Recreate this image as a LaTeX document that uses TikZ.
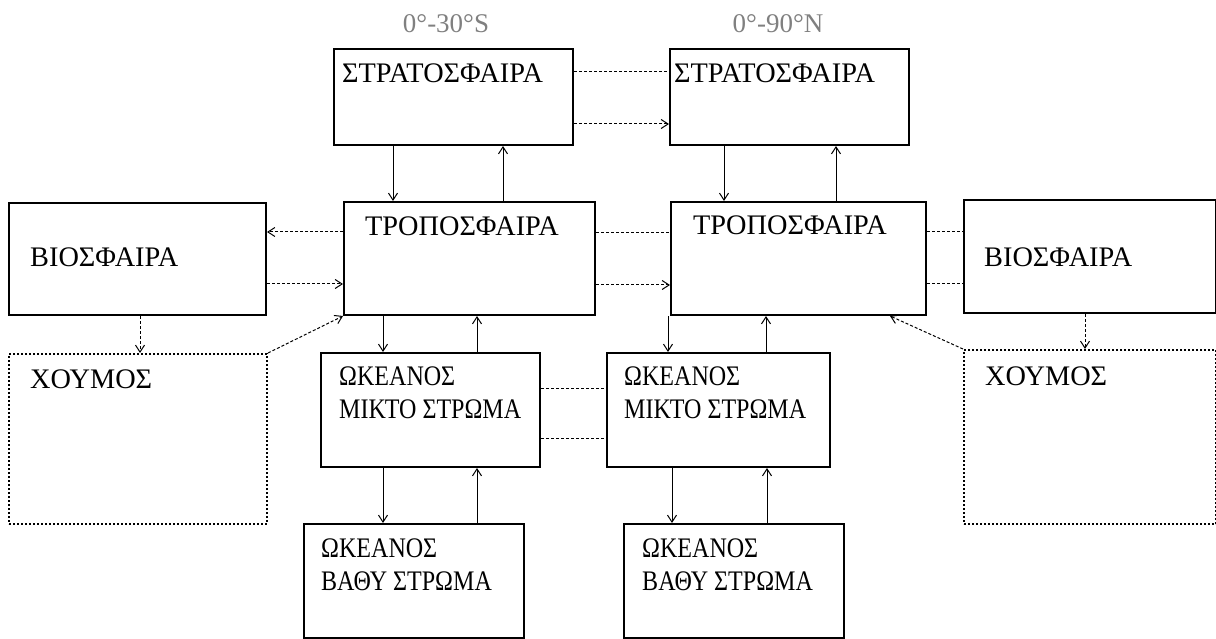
\documentclass[tikz,border=0pt]{standalone}
\usepackage{fontspec}
\setmainfont{Liberation Serif}
\newfontfamily\narrowfont[FakeStretch=0.85]{Liberation Serif}
\usetikzlibrary{arrows.meta}
\begin{document}
\begin{tikzpicture}[x=1pt,y=-1pt,
 box/.style={draw,line width=2pt,anchor=north west,inner sep=0pt},
 humbox/.style={box,dotted},
 lbl/.style={anchor=base west,inner sep=0pt,align=left,font=\fontsize{28.3}{33}\selectfont},
 olbl/.style={lbl,font=\narrowfont\fontsize{28.3}{33}\selectfont},
 zone/.style={inner sep=0pt,text=black!50,font=\fontsize{27}{30}\selectfont},
 arr/.style={line width=1pt,-{Straight Barb[length=7pt,width=9pt]}},
 darr/.style={arr,densely dashed},
 link/.style={line width=1pt,densely dashed}]
 \useasboundingbox (0,0) rectangle (1216,639);
 % zones
 \node[zone] (latS) at (446,24) {0°-30°S};
 \node[zone] (latN) at (778,24) {0°-90°N};
 % boxes
 \node[box,minimum width=239pt,minimum height=96pt] (stratS) at (333,48) {};
 \node[box,minimum width=239pt,minimum height=96pt] (stratN) at (669,48) {};
 \node[box,minimum width=257pt,minimum height=112pt] (bioS) at (8,202) {};
 \node[box,minimum width=251pt,minimum height=113pt] (tropS) at (343,201) {};
 \node[box,minimum width=255pt,minimum height=113pt] (tropN) at (670,201) {};
 \node[box,minimum width=252pt,minimum height=113pt] (bioN) at (963,199) {};
 \node[humbox,minimum width=258pt,minimum height=170pt] (humS) at (8,353) {};
 \node[humbox,minimum width=252pt,minimum height=174pt] (humN) at (963,349) {};
 \node[box,minimum width=219pt,minimum height=114pt] (mixS) at (320,352) {};
 \node[box,minimum width=223pt,minimum height=114pt] (mixN) at (606,352) {};
 \node[box,minimum width=220pt,minimum height=114pt] (deepS) at (303,523) {};
 \node[box,minimum width=220pt,minimum height=114pt] (deepN) at (623,523) {};
 % labels
 \node[lbl] (stratSt) at ([shift={(9,35)}]stratS.north west) {ΣΤΡΑΤΟΣΦΑΙΡΑ};
 \node[lbl] (stratNt) at ([shift={(5,35)}]stratN.north west) {ΣΤΡΑΤΟΣΦΑΙΡΑ};
 \node[lbl] (tropSt) at ([shift={(22,35)}]tropS.north west) {ΤΡΟΠΟΣΦΑΙΡΑ};
 \node[lbl] (tropNt) at ([shift={(23,34)}]tropN.north west) {ΤΡΟΠΟΣΦΑΙΡΑ};
 \node[lbl] (bioSt) at ([shift={(22,65)}]bioS.north west) {ΒΙΟΣΦΑΙΡΑ};
 \node[lbl] (bioNt) at ([shift={(21,68)}]bioN.north west) {ΒΙΟΣΦΑΙΡΑ};
 \node[lbl] (humSt) at ([shift={(22,35)}]humS.north west) {ΧΟΥΜΟΣ};
 \node[lbl] (humNt) at ([shift={(22,36)}]humN.north west) {ΧΟΥΜΟΣ};
 \node[olbl] (mixSt) at ([shift={(19,66)}]mixS.north west) {ΩΚΕΑΝΟΣ\\ΜΙΚΤΟ ΣΤΡΩΜΑ};
 \node[olbl] (mixNt) at ([shift={(18,66)}]mixN.north west) {ΩΚΕΑΝΟΣ\\ΜΙΚΤΟ ΣΤΡΩΜΑ};
 \node[olbl] (deepSt) at ([shift={(18,67)}]deepS.north west) {ΩΚΕΑΝΟΣ\\ΒΑΘΥ ΣΤΡΩΜΑ};
 \node[olbl] (deepNt) at ([shift={(19,67)}]deepN.north west) {ΩΚΕΑΝΟΣ\\ΒΑΘΥ ΣΤΡΩΜΑ};
 % stratosphere
 \draw[link] (stratS.east |- 0,72) -- (stratN.west |- 0,72);
 \draw[darr] (stratS.east |- 0,124) -- (stratN.west |- 0,124);
 \draw[arr] (stratS.south -| 393,0) -- (tropS.north -| 393,0);
 \draw[arr] (tropS.north -| 503,0) -- (stratS.south -| 503,0);
 \draw[arr] (stratN.south -| 724,0) -- (tropN.north -| 724,0);
 \draw[arr] (tropN.north -| 836,0) -- (stratN.south -| 836,0);
 % troposphere and biosphere
 \draw[darr] (tropS.west |- 0,232) -- (bioS.east |- 0,232);
 \draw[darr] (bioS.east |- 0,284) -- (tropS.west |- 0,284);
 \draw[link] (tropS.east |- 0,233) -- (tropN.west |- 0,233);
 \draw[darr] (tropS.east |- 0,285) -- (tropN.west |- 0,285);
 \draw[link] (tropN.east |- 0,232) -- (bioN.west |- 0,232);
 \draw[link] (tropN.east |- 0,284) -- (bioN.west |- 0,284);
 \draw[darr] (bioS.south -| 140,0) -- (humS.north -| 140,0);
 \draw[darr] (bioN.south -| 1085,0) -- (humN.north -| 1085,0);
 \draw[darr] (humS.north east) -- (tropS.south west);
 \draw[darr] (humN.north west) -- (tropN.south -| 890,0);
 % ocean
 \draw[arr] (tropS.south -| 383,0) -- (mixS.north -| 383,0);
 \draw[arr] (mixS.north -| 477,0) -- (tropS.south -| 477,0);
 \draw[arr] (tropN.south -| 668,0) -- (mixN.north -| 668,0);
 \draw[arr] (mixN.north -| 766,0) -- (tropN.south -| 766,0);
 \draw[link] (mixS.east |- 0,388) -- (mixN.west |- 0,388);
 \draw[link] (mixS.east |- 0,438) -- (mixN.west |- 0,438);
 \draw[arr] (mixS.south -| 383,0) -- (deepS.north -| 383,0);
 \draw[arr] (deepS.north -| 477,0) -- (mixS.south -| 477,0);
 \draw[arr] (mixN.south -| 672,0) -- (deepN.north -| 672,0);
 \draw[arr] (deepN.north -| 767,0) -- (mixN.south -| 767,0);
\end{tikzpicture}
\end{document}
